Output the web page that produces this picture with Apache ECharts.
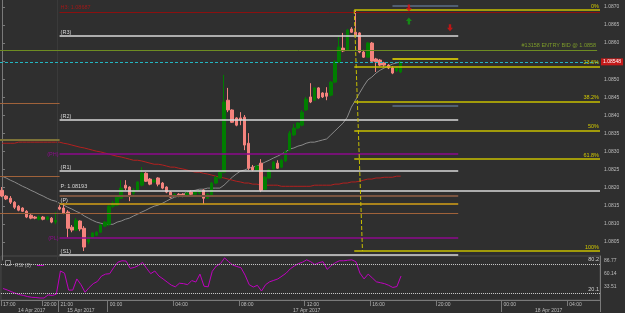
<!DOCTYPE html>
<html><head><meta charset="utf-8">
<script src="https://cdn.jsdelivr.net/npm/echarts@6/dist/echarts.min.js"></script>
<style>html,body{margin:0;padding:0;background:#2f2f2f;}#c{width:625px;height:313px;}</style>
</head><body><div id="c"></div>
<script>
// ---------- DATA ----------
const SLOTS = 146; // 15-minute slots across the x axis
const opens = [1.08193,1.08177,1.08171,1.08160,1.08149,1.08144,1.08135,1.08124,1.08119,1.08113,1.08119,1.08113,1.08116,1.08105,1.08146,1.08144,1.08133,1.08091,1.08083,1.08108,1.08088,1.08050,1.08063,1.08069,1.08077,1.08094,1.08099,1.08149,1.08152,1.08171,1.08207,1.08202,1.08185,1.08193,1.08207,1.08240,1.08224,1.08216,1.08227,1.08213,1.08202,1.08188,1.08177,1.08182,1.08182,1.08177,1.08188,1.08182,1.08185,1.08193,1.08171,1.08180,1.08213,1.08227,1.08243,1.08442,1.08415,1.08393,1.08393,1.08395,1.08323,1.08257,1.08249,1.08268,1.08196,1.08227,1.08252,1.08268,1.08257,1.08274,1.08304,1.08346,1.08365,1.08373,1.08415,1.08451,1.08442,1.08476,1.08462,1.08462,1.08456,1.08492,1.08548,1.08586,1.08581,1.08639,1.08630,1.08628,1.08575,1.08561,1.08600,1.08556,1.08553,1.08545,1.08539,1.08531,1.08523,1.08520];
const closes = [1.08177,1.08169,1.08160,1.08146,1.08138,1.08135,1.08119,1.08116,1.08116,1.08119,1.08113,1.08119,1.08105,1.08110,1.08141,1.08130,1.08088,1.08083,1.08110,1.08086,1.08036,1.08063,1.08075,1.08077,1.08097,1.08105,1.08149,1.08157,1.08174,1.08199,1.08199,1.08180,1.08193,1.08216,1.08240,1.08218,1.08210,1.08221,1.08210,1.08199,1.08188,1.08174,1.08182,1.08177,1.08177,1.08185,1.08182,1.08188,1.08191,1.08171,1.08182,1.08213,1.08229,1.08243,1.08437,1.08415,1.08381,1.08373,1.08387,1.08318,1.08254,1.08249,1.08260,1.08193,1.08229,1.08249,1.08271,1.08254,1.08276,1.08299,1.08351,1.08365,1.08379,1.08409,1.08445,1.08437,1.08476,1.08448,1.08451,1.08453,1.08492,1.08548,1.08589,1.08578,1.08636,1.08630,1.08622,1.08575,1.08561,1.08600,1.08550,1.08548,1.08539,1.08539,1.08531,1.08517,1.08531,1.08548];
const lows = [1.08174,1.08166,1.08155,1.08141,1.08135,1.08133,1.08116,1.08113,1.08113,1.08110,1.08110,1.08110,1.08102,1.08099,1.08138,1.08127,1.08063,1.08077,1.08080,1.08080,1.08025,1.08044,1.08061,1.08066,1.08075,1.08091,1.08094,1.08144,1.08149,1.08169,1.08193,1.08163,1.08180,1.08191,1.08204,1.08216,1.08207,1.08213,1.08204,1.08196,1.08185,1.08171,1.08174,1.08174,1.08174,1.08174,1.08180,1.08180,1.08182,1.08155,1.08169,1.08177,1.08210,1.08224,1.08240,1.08409,1.08379,1.08370,1.08373,1.08304,1.08249,1.08246,1.08246,1.08188,1.08193,1.08224,1.08249,1.08252,1.08254,1.08271,1.08301,1.08343,1.08362,1.08370,1.08412,1.08434,1.08440,1.08445,1.08448,1.08442,1.08453,1.08489,1.08545,1.08575,1.08578,1.08628,1.08619,1.08572,1.08559,1.08559,1.08548,1.08520,1.08536,1.08534,1.08528,1.08514,1.08520,1.08517];
const highs = [1.08202,1.08180,1.08177,1.08163,1.08152,1.08146,1.08138,1.08127,1.08122,1.08124,1.08122,1.08122,1.08119,1.08133,1.08152,1.08157,1.08138,1.08097,1.08116,1.08110,1.08094,1.08066,1.08077,1.08080,1.08099,1.08108,1.08152,1.08163,1.08177,1.08221,1.08221,1.08204,1.08199,1.08218,1.08257,1.08243,1.08227,1.08224,1.08229,1.08216,1.08204,1.08191,1.08185,1.08185,1.08185,1.08188,1.08193,1.08191,1.08193,1.08196,1.08185,1.08216,1.08232,1.08246,1.08512,1.08476,1.08417,1.08395,1.08409,1.08401,1.08351,1.08263,1.08263,1.08279,1.08232,1.08252,1.08274,1.08276,1.08279,1.08304,1.08357,1.08376,1.08381,1.08415,1.08451,1.08489,1.08478,1.08478,1.08464,1.08478,1.08495,1.08553,1.08617,1.08628,1.08639,1.08644,1.08691,1.08630,1.08581,1.08603,1.08603,1.08559,1.08556,1.08548,1.08542,1.08536,1.08536,1.08550];
const maFast = [1.08232,1.08227,1.08221,1.08216,1.08210,1.08204,1.08199,1.08193,1.08188,1.08182,1.08177,1.08171,1.08166,1.08163,1.08157,1.08152,1.08146,1.08141,1.08135,1.08130,1.08122,1.08116,1.08110,1.08105,1.08102,1.08099,1.08099,1.08099,1.08105,1.08108,1.08113,1.08116,1.08122,1.08127,1.08133,1.08138,1.08144,1.08149,1.08152,1.08157,1.08163,1.08169,1.08174,1.08177,1.08182,1.08188,1.08191,1.08193,1.08196,1.08196,1.08199,1.08199,1.08199,1.08199,1.08207,1.08218,1.08229,1.08238,1.08246,1.08249,1.08254,1.08257,1.08260,1.08265,1.08271,1.08276,1.08282,1.08287,1.08293,1.08299,1.08307,1.08310,1.08315,1.08318,1.08323,1.08326,1.08326,1.08329,1.08332,1.08335,1.08346,1.08357,1.08368,1.08379,1.08395,1.08423,1.08442,1.08462,1.08481,1.08498,1.08506,1.08517,1.08525,1.08531,1.08536,1.08542,1.08545,1.08548];
const maSlow = [1.08323,1.08323,1.08323,1.08323,1.08326,1.08326,1.08326,1.08326,1.08326,1.08326,1.08326,1.08326,1.08326,1.08326,1.08326,1.08323,1.08321,1.08318,1.08315,1.08312,1.08310,1.08307,1.08304,1.08301,1.08299,1.08296,1.08293,1.08290,1.08287,1.08285,1.08282,1.08279,1.08276,1.08276,1.08274,1.08271,1.08268,1.08265,1.08265,1.08263,1.08260,1.08257,1.08257,1.08254,1.08252,1.08249,1.08246,1.08243,1.08243,1.08240,1.08238,1.08235,1.08232,1.08229,1.08227,1.08224,1.08221,1.08218,1.08216,1.08213,1.08213,1.08210,1.08210,1.08207,1.08207,1.08207,1.08207,1.08207,1.08204,1.08204,1.08204,1.08204,1.08204,1.08204,1.08204,1.08204,1.08207,1.08207,1.08207,1.08207,1.08207,1.08210,1.08210,1.08213,1.08213,1.08216,1.08216,1.08218,1.08221,1.08224,1.08224,1.08227,1.08227,1.08229,1.08229,1.08229,1.08232,1.08232];
const rsi = [30.2,27.3,23.9,20.6,17.7,16.1,13.8,12.3,11.9,10.9,10.9,17.3,16.1,18.6,65.5,61.1,26.9,26.9,49.5,37.9,22.5,32.2,39.9,44.3,55.3,59.2,60.1,72.7,83.3,86.2,85.6,70.8,72.7,76.5,82.9,70.8,60.1,65.5,55.3,49.5,43.2,37.0,33.5,40.8,39.9,37.9,46.2,43.2,59.2,34.7,33.5,65.0,75.6,80.4,92.0,84.3,77.5,74.6,72.1,57.2,37.9,33.1,36.6,25.0,37.9,43.7,46.6,49.5,55.3,61.1,69.8,75.6,80.4,83.3,88.1,84.3,78.5,82.3,84.3,68.8,76.5,82.3,86.2,86.2,87.2,88.1,84.3,61.1,49.5,59.2,51.5,43.7,41.8,39.9,36.6,32.2,34.1,55.3];

const timeTickSlots = [0,10,14,26,42,58,74,90,106,122,138];
const timeTickLabels = ['17:00','20:00','21:00','00:00','04:00','08:00','12:00','16:00','20:00','00:00','04:00'];
const dateSlots = [7,19,74,133];
const dateLabels = ['14 Apr 2017','15 Apr 2017','17 Apr 2017','18 Apr 2017'];
const daySepSlots = [14,26,122];

const pivotValues = [1.08619,1.08387,1.08246,1.08014];
const pivotLabels = ['(R3)','(R2)','(R1)','(S1)'];
const pivotCentral = 1.08193, pivotCentralLabel = 'P: 1.08193';
const midPivot = 1.08155, midPivotLabel = '(P)';
const purpleValues = [1.08293,1.08061];
const purpleLabels = ['(PH)','(PL)'];
const brownValues = [1.08177];
const brownWideValues = [1.08130];
const leftOrangeValues = [1.08434,1.08232];
const leftOliveValues = [1.08332];
const topRedLevel = 1.08686, topRedLabel = 'H3: 1.08687';
const entryLevel = 1.08581, entryLabel = '#13158 ENTRY BID @ 1.0858';
const fibValues = [1.08691,1.08534,1.08439,1.08358,1.08279,1.08025];
const fibLabels = ['0%','23.6%','38.2%','50%','61.8%','100%'];
const slateValues = [1.08702,1.08426];
const brightYellowValues = [1.08556];
const arrowSlots = [99,99,109];
const arrowPrices = [1.08697,1.08661,1.08642];
const arrowUp = [false,true,false];
const rsiLevels = [80,20];
const rsiLevelLabels = ['80.2','20.1'];
const rsiAxisValues = [86.767,60.14,33.513];

// ---------- CHART ----------
const FONT = 'Liberation Sans';
const cats = Array.from({length: SLOTS}, (_, i) => String(i));
const timeMap = {}; timeTickSlots.forEach((s, i) => timeMap[s] = timeTickLabels[i]);
const dateMap = {}; dateSlots.forEach((s, i) => dateMap[s] = dateLabels[i]);
const X0 = -0.5, X1 = SLOTS - 0.5;
const PIV_S = 14, PIV_E = 111, SHORT_S = 95, FIB_S = 86;

function seg(values, labels, s, e) {
  return values.map((v, i) => [{name: labels ? labels[i] : '', coord: [s, v]}, {coord: [e, v]}]);
}
function levels(data, color, width, type, pos, labelColor, grid) {
  const g = grid || 0;
  return {
    type: 'line', xAxisIndex: g, yAxisIndex: g, data: [], silent: true, animation: false,
    markLine: {
      symbol: ['none', 'none'], silent: true, animation: false, precision: 5,
      lineStyle: {color: color, width: width, type: type, opacity: 1},
      label: {show: true, position: pos, formatter: '{b}', color: labelColor || color, fontSize: 5.5, fontFamily: FONT, distance: 1},
      emphasis: {disabled: true},
      data: data
    }
  };
}
const upArrow = 'path://M5,0 L10,5 L7,5 L7,10 L3,10 L3,5 L0,5 Z';
const lastClose = closes[closes.length - 1];

const option = {
  backgroundColor: '#2f2f2f',
  animation: false,
  textStyle: {fontFamily: FONT},
  grid: [
    {left: 0, right: 25, top: 0, height: 260.1},
    {left: 0, right: 25, top: 256, height: 46.1, show: true, backgroundColor: '#2f2f2f', borderColor: '#4a4a4a', borderWidth: 1}
  ],
  legend: {
    left: 10, top: 258, data: ['RSI (8)'], align: 'right', icon: 'rect', itemWidth: 7, itemHeight: 1, itemGap: 2,
    selectedMode: false, textStyle: {color: '#aaaaaa', fontSize: 5, fontFamily: FONT, padding: [0, 1, 0, 0]}
  },
  graphic: [{type: 'rect', left: 3, top: 258, shape: {width: 5, height: 5}, style: {fill: 'none', stroke: '#888', lineWidth: 1}}],
  xAxis: [
    {type: 'value', gridIndex: 0, min: X0, max: X1, show: false},
    {type: 'category', gridIndex: 1, data: cats, boundaryGap: true, position: 'bottom',
      axisLine: {lineStyle: {color: '#7a7a7a'}},
      axisTick: {show: true, length: 6, interval: (i) => timeMap[i] !== undefined, lineStyle: {color: '#7a7a7a'}},
      axisLabel: {interval: (i) => timeMap[i] !== undefined, formatter: (v, i) => timeMap[i] || '', color: '#bdbdbd', fontSize: 5, margin: 2, align: 'left', fontFamily: FONT},
      splitLine: {show: false}},
    {type: 'category', gridIndex: 1, data: cats, boundaryGap: true, position: 'bottom', offset: 6,
      axisLine: {show: false},
      axisTick: {show: true, length: 6, interval: (i) => daySepSlots.indexOf(i) >= 0, lineStyle: {color: '#7a7a7a'}},
      axisLabel: {interval: (i) => dateMap[i] !== undefined, formatter: (v, i) => dateMap[i] || '', color: '#bdbdbd', fontSize: 5, margin: 2, fontFamily: FONT},
      splitLine: {show: false}}
  ],
  yAxis: [
    {type: 'value', gridIndex: 0, position: 'right', min: 1.0800, max: 1.08719, interval: 0.0005,
      axisLine: {show: true, lineStyle: {color: '#7a7a7a'}},
      axisTick: {show: true, length: 3, lineStyle: {color: '#7a7a7a'}},
      axisLabel: {color: '#bdbdbd', fontSize: 5, margin: 4, formatter: (v) => v.toFixed(4), showMinLabel: false, showMaxLabel: false, fontFamily: FONT},
      splitLine: {show: false}},
    {type: 'value', gridIndex: 1, position: 'right', min: 6.886, max: 95.84,
      axisLine: {show: true, lineStyle: {color: '#7a7a7a'}},
      axisTick: {show: false}, axisLabel: {show: false}, splitLine: {show: false}}
  ],
  series: [
    levels([[{name: '', coord: [PIV_S - 0.5, 1.0800]}, {coord: [PIV_S - 0.5, 1.08719]}]], '#3a3a3a', 1, 'solid', 'end'),
    levels(seg(leftOrangeValues, null, X0, PIV_S), '#a0623a', 1, 'solid', 'end'),
    levels(seg(leftOliveValues, null, X0, PIV_S), '#7d7338', 2, 'solid', 'end'),
    levels(seg(brownWideValues, null, X0, PIV_E), '#a0623a', 1, 'solid', 'end'),
    levels(seg(brownValues, null, PIV_S, PIV_E), '#7a5440', 2, 'solid', 'end'),
    levels(seg([midPivot], [midPivotLabel], PIV_S, PIV_E), '#d4a017', 1.5, 'solid', 'insideStartTop', '#d8d8d8'),
    levels(seg(purpleValues, purpleLabels, PIV_S, PIV_E), '#8e0a8e', 1.5, 'solid', 'start'),
    levels(seg(pivotValues, pivotLabels, PIV_S, PIV_E), '#d8d8d8', 1.5, 'solid', 'insideStartTop'),
    levels(seg([pivotCentral], [pivotCentralLabel], PIV_S, X1), '#d8d8d8', 1.5, 'solid', 'insideStartTop'),
    levels(seg([topRedLevel], [topRedLabel], PIV_S, X1), '#8b1010', 1, 'solid', 'insideStartTop', '#a01818'),
    levels(seg([entryLevel], [entryLabel], X0, X1 - 0.7), '#6e8c22', 1, 'solid', 'insideEndTop', '#7d9c2a'),
    levels(seg(slateValues, null, SHORT_S, PIV_E), '#5c6f88', 1.5, 'solid', 'end'),
    levels(seg(brightYellowValues, null, SHORT_S, PIV_E), '#f0e000', 1.5, 'solid', 'end'),
    levels(seg(fibValues, fibLabels, FIB_S - 0.3, X1), '#c8c000', 1.5, 'solid', 'insideEndTop', '#d0c800'),
    levels([[{name: '', coord: [FIB_S - 0.3, fibValues[0]]}, {coord: [FIB_S + 1.7, fibValues[5]]}]], '#c8c000', 1, 'dashed', 'end'),
    {
      type: 'line', name: 'MA fast', data: maFast.map((v, i) => [i, v]), xAxisIndex: 0, yAxisIndex: 0, symbol: 'none', silent: true,
      lineStyle: {color: '#8a8a8a', width: 1}, z: 3
    },
    {
      type: 'line', name: 'MA slow', data: maSlow.map((v, i) => [i, v]), xAxisIndex: 0, yAxisIndex: 0, symbol: 'none', silent: true,
      lineStyle: {color: '#b3201f', width: 1}, z: 3
    },
    {
      type: 'candlestick', name: 'EURUSD', xAxisIndex: 0, yAxisIndex: 0, barWidth: 3, silent: true, z: 4,
      data: opens.map((o, i) => [i, o, closes[i], lows[i], highs[i]]),
      encode: {x: 0, y: [1, 2, 3, 4]},
      itemStyle: {color: '#007d00', color0: '#f4837d', borderColor: '#007d00', borderColor0: '#f4837d', borderWidth: 1}
    },
    {
      type: 'line', xAxisIndex: 0, yAxisIndex: 0, data: [], silent: true, z: 3,
      markLine: {
        symbol: ['none', 'none'], silent: true, animation: false,
        lineStyle: {color: '#22b5c0', width: 1, type: [3, 2]},
        label: {show: true, position: 'end', formatter: () => lastClose.toFixed(5), color: '#ffffff', backgroundColor: '#c41a1a',
          fontSize: 5, padding: [1, 2, 1, 2], distance: 1, fontFamily: FONT},
        emphasis: {disabled: true},
        data: [[{coord: [X0, lastClose]}, {coord: [X1, lastClose]}]]
      }
    },
    {
      type: 'scatter', xAxisIndex: 0, yAxisIndex: 0, silent: true, z: 5,
      data: arrowSlots.map((s, i) => ({value: [s, arrowPrices[i]], symbolRotate: arrowUp[i] ? 0 : 180,
        itemStyle: {color: arrowUp[i] ? '#10a010' : '#e01010'}})),
      symbol: upArrow, symbolSize: [6, 7]
    },
    // RSI panel
    {
      type: 'line', name: 'RSI (8)', data: rsi, xAxisIndex: 1, yAxisIndex: 1, symbol: 'none', silent: true,
      lineStyle: {color: '#c000c0', width: 1}, itemStyle: {color: '#c000c0'}
    },
    levels(rsiLevels.map((v, i) => ({name: rsiLevelLabels[i], yAxis: v})), '#cfcfcf', 1, 'dotted', 'insideEndTop', '#d0d0d0', 1),
    {
      type: 'line', xAxisIndex: 1, yAxisIndex: 1, data: [], silent: true,
      markLine: {symbol: ['none', 'none'], silent: true, animation: false,
        lineStyle: {color: 'rgba(0,0,0,0)', width: 0},
        label: {show: true, position: 'end', formatter: (p) => String(p.value), color: '#bdbdbd', fontSize: 5, distance: 4, fontFamily: FONT},
        data: rsiAxisValues.map(v => ({yAxis: v}))}
    }
  ]
};
const chart = echarts.init(document.getElementById('c'), null, {width: 625, height: 313});
chart.setOption(option);
</script></body></html>
